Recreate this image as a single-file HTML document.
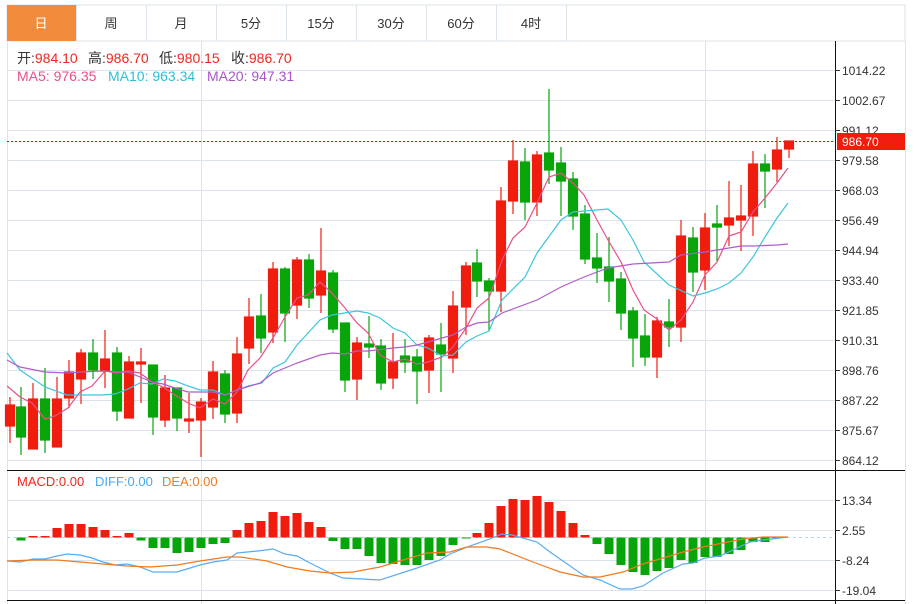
<!DOCTYPE html>
<html><head><meta charset="utf-8"><style>
body{margin:0;background:#fff;width:914px;height:604px;overflow:hidden;font-family:"Liberation Sans","Noto Sans CJK SC",sans-serif}
svg{position:absolute;left:0;top:0}
text{font-family:"Liberation Sans","Noto Sans CJK SC",sans-serif}
</style></head><body>
<svg width="914" height="604" viewBox="0 0 914 604">
<rect x="7" y="5" width="898" height="36" fill="#fff" stroke="#dde3ea"/>
<rect x="7" y="5" width="69" height="36" fill="#f28c3c"/>
<g stroke="#dde3ea"><line x1="76.5" y1="5" x2="76.5" y2="41"/><line x1="146.5" y1="5" x2="146.5" y2="41"/><line x1="216.5" y1="5" x2="216.5" y2="41"/><line x1="286.5" y1="5" x2="286.5" y2="41"/><line x1="356.5" y1="5" x2="356.5" y2="41"/><line x1="426.5" y1="5" x2="426.5" y2="41"/><line x1="496.5" y1="5" x2="496.5" y2="41"/><line x1="566.5" y1="5" x2="566.5" y2="41"/></g>
<g font-size="13" text-anchor="middle" fill="#333"><text x="41" y="28" fill="#fff">日</text><text x="111" y="28">周</text><text x="181" y="28">月</text><text x="251" y="28">5分</text><text x="321" y="28">15分</text><text x="391" y="28">30分</text><text x="461" y="28">60分</text><text x="531" y="28">4时</text></g>
<g stroke="#dde3ea" fill="none"><line x1="7.5" y1="41" x2="7.5" y2="604"/><line x1="905.5" y1="41" x2="905.5" y2="604"/><line x1="201.5" y1="41" x2="201.5" y2="604"/><line x1="705.5" y1="41" x2="705.5" y2="604"/>
<line x1="7" y1="70.5" x2="835" y2="70.5"/><line x1="7" y1="100.5" x2="835" y2="100.5"/><line x1="7" y1="130.5" x2="835" y2="130.5"/><line x1="7" y1="160.5" x2="835" y2="160.5"/><line x1="7" y1="190.5" x2="835" y2="190.5"/><line x1="7" y1="220.5" x2="835" y2="220.5"/><line x1="7" y1="250.5" x2="835" y2="250.5"/><line x1="7" y1="280.5" x2="835" y2="280.5"/><line x1="7" y1="310.5" x2="835" y2="310.5"/><line x1="7" y1="340.5" x2="835" y2="340.5"/><line x1="7" y1="370.5" x2="835" y2="370.5"/><line x1="7" y1="400.5" x2="835" y2="400.5"/><line x1="7" y1="430.5" x2="835" y2="430.5"/><line x1="7" y1="460.5" x2="835" y2="460.5"/>
<line x1="7" y1="500.5" x2="835" y2="500.5"/><line x1="7" y1="530.5" x2="835" y2="530.5"/><line x1="7" y1="560.5" x2="835" y2="560.5"/><line x1="7" y1="590.5" x2="835" y2="590.5"/></g>
<line x1="7" y1="470.5" x2="905" y2="470.5" stroke="#111"/><line x1="7" y1="600.5" x2="905" y2="600.5" stroke="#111"/>
<line x1="835.5" y1="41" x2="835.5" y2="604" stroke="#111"/>
<g font-size="12" fill="#333"><g stroke="#333"><line x1="835" y1="70.5" x2="840" y2="70.5"/><line x1="835" y1="100.5" x2="840" y2="100.5"/><line x1="835" y1="130.5" x2="840" y2="130.5"/><line x1="835" y1="160.5" x2="840" y2="160.5"/><line x1="835" y1="190.5" x2="840" y2="190.5"/><line x1="835" y1="220.5" x2="840" y2="220.5"/><line x1="835" y1="250.5" x2="840" y2="250.5"/><line x1="835" y1="280.5" x2="840" y2="280.5"/><line x1="835" y1="310.5" x2="840" y2="310.5"/><line x1="835" y1="340.5" x2="840" y2="340.5"/><line x1="835" y1="370.5" x2="840" y2="370.5"/><line x1="835" y1="400.5" x2="840" y2="400.5"/><line x1="835" y1="430.5" x2="840" y2="430.5"/><line x1="835" y1="460.5" x2="840" y2="460.5"/><line x1="835" y1="500.5" x2="840" y2="500.5"/><line x1="835" y1="530.5" x2="840" y2="530.5"/><line x1="835" y1="560.5" x2="840" y2="560.5"/><line x1="835" y1="590.5" x2="840" y2="590.5"/></g>
<text x="842" y="75">1014.22</text><text x="842" y="105">1002.67</text><text x="842" y="135">991.12</text><text x="842" y="165">979.58</text><text x="842" y="195">968.03</text><text x="842" y="225">956.49</text><text x="842" y="255">944.94</text><text x="842" y="285">933.40</text><text x="842" y="315">921.85</text><text x="842" y="345">910.31</text><text x="842" y="375">898.76</text><text x="842" y="405">887.22</text><text x="842" y="435">875.67</text><text x="842" y="465">864.12</text>
<text x="842" y="505">13.34</text><text x="842" y="535">2.55</text><text x="842" y="565">-8.24</text><text x="842" y="595">-19.04</text></g>
<line x1="7" y1="141.5" x2="835" y2="141.5" stroke="#e01010" stroke-dasharray="2,2"/>
<rect x="837" y="133" width="68" height="17" fill="#f01d0f"/>
<text x="842" y="146" font-size="12" fill="#fff">986.70</text>
<line x1="7" y1="537.5" x2="835" y2="537.5" stroke="#a8dcf0" stroke-dasharray="3,3"/>
<g font-size="14">
<text x="17" y="63"><tspan fill="#333">开:</tspan><tspan fill="#f0261d">984.10</tspan></text>
<text x="88" y="63"><tspan fill="#333">高:</tspan><tspan fill="#f0261d">986.70</tspan></text>
<text x="159" y="63"><tspan fill="#333">低:</tspan><tspan fill="#f0261d">980.15</tspan></text>
<text x="231" y="63"><tspan fill="#333">收:</tspan><tspan fill="#f0261d">986.70</tspan></text>
<text x="17" y="81" fill="#e8508a">MA5: 976.35</text>
<text x="108" y="81" fill="#2bc0d8">MA10: 963.34</text>
<text x="207" y="81" fill="#a855c8">MA20: 947.31</text>
</g>
<g font-size="13">
<text x="17" y="486" fill="#f0261d">MACD:0.00</text>
<text x="95" y="486" fill="#4aa8f0">DIFF:0.00</text>
<text x="162" y="486" fill="#f07a20">DEA:0.00</text>
</g>
<g stroke-width="1.2">
<g stroke="#f01d0f" fill="#f01d0f">
<line x1="10" y1="397" x2="10" y2="443"/><rect x="5.5" y="405" width="9" height="21"/>
<line x1="33" y1="383" x2="33" y2="449"/><rect x="28.5" y="399" width="9" height="50"/>
<line x1="57" y1="377" x2="57" y2="447"/><rect x="52.5" y="399" width="9" height="48"/>
<line x1="69" y1="360" x2="69" y2="408"/><rect x="64.5" y="372" width="9" height="26"/>
<line x1="81" y1="349" x2="81" y2="404"/><rect x="76.5" y="353" width="9" height="26"/>
<line x1="105" y1="330" x2="105" y2="388"/><rect x="100.5" y="359" width="9" height="12"/>
<line x1="129" y1="356" x2="129" y2="418"/><rect x="124.5" y="362" width="9" height="56"/>
<line x1="141" y1="348" x2="141" y2="403"/><rect x="136.5" y="362" width="9" height="2"/>
<line x1="165" y1="375" x2="165" y2="427"/><rect x="160.5" y="388" width="9" height="32"/>
<line x1="189" y1="393" x2="189" y2="433"/><rect x="184.5" y="419" width="9" height="2"/>
<line x1="201" y1="398" x2="201" y2="457"/><rect x="196.5" y="402" width="9" height="18"/>
<line x1="213" y1="361" x2="213" y2="419"/><rect x="208.5" y="372" width="9" height="35"/>
<line x1="237" y1="337" x2="237" y2="423"/><rect x="232.5" y="354" width="9" height="59"/>
<line x1="249" y1="298" x2="249" y2="364"/><rect x="244.5" y="317" width="9" height="31"/>
<line x1="273" y1="262" x2="273" y2="343"/><rect x="268.5" y="269" width="9" height="63"/>
<line x1="297" y1="257" x2="297" y2="319"/><rect x="292.5" y="260" width="9" height="45"/>
<line x1="321" y1="228" x2="321" y2="313"/><rect x="316.5" y="271" width="9" height="24"/>
<line x1="357" y1="337" x2="357" y2="400"/><rect x="352.5" y="343" width="9" height="36"/>
<line x1="393" y1="333" x2="393" y2="389"/><rect x="388.5" y="362" width="9" height="16"/>
<line x1="429" y1="335" x2="429" y2="393"/><rect x="424.5" y="338" width="9" height="32"/>
<line x1="453" y1="291" x2="453" y2="373"/><rect x="448.5" y="306" width="9" height="52"/>
<line x1="466" y1="262" x2="466" y2="335"/><rect x="461.5" y="266" width="9" height="41"/>
<line x1="501" y1="187" x2="501" y2="312"/><rect x="496.5" y="201" width="9" height="90"/>
<line x1="513" y1="140" x2="513" y2="214"/><rect x="508.5" y="161" width="9" height="40"/>
<line x1="537" y1="151" x2="537" y2="216"/><rect x="532.5" y="155" width="9" height="47"/>
<line x1="657" y1="317" x2="657" y2="378"/><rect x="652.5" y="321" width="9" height="36"/>
<line x1="681" y1="220" x2="681" y2="342"/><rect x="676.5" y="236" width="9" height="91"/>
<line x1="705" y1="213" x2="705" y2="290"/><rect x="700.5" y="228" width="9" height="42"/>
<line x1="729" y1="181" x2="729" y2="246"/><rect x="724.5" y="218" width="9" height="7"/>
<line x1="741" y1="185" x2="741" y2="251"/><rect x="736.5" y="216" width="9" height="4"/>
<line x1="753" y1="151" x2="753" y2="236"/><rect x="748.5" y="164" width="9" height="52"/>
<line x1="777" y1="137" x2="777" y2="182"/><rect x="772.5" y="150" width="9" height="19"/>
<line x1="789" y1="141" x2="789" y2="158"/><rect x="784.5" y="141" width="9" height="8"/>
</g>
<g stroke="#07a50a" fill="#07a50a">
<line x1="21" y1="387" x2="21" y2="455"/><rect x="16.5" y="407" width="9" height="30"/>
<line x1="45" y1="368" x2="45" y2="453"/><rect x="40.5" y="399" width="9" height="41"/>
<line x1="93" y1="339" x2="93" y2="379"/><rect x="88.5" y="353" width="9" height="17"/>
<line x1="117" y1="347" x2="117" y2="421"/><rect x="112.5" y="353" width="9" height="58"/>
<line x1="153" y1="365" x2="153" y2="435"/><rect x="148.5" y="365" width="9" height="52"/>
<line x1="177" y1="388" x2="177" y2="431"/><rect x="172.5" y="388" width="9" height="30"/>
<line x1="225" y1="370" x2="225" y2="423"/><rect x="220.5" y="374" width="9" height="40"/>
<line x1="261" y1="294" x2="261" y2="353"/><rect x="256.5" y="316" width="9" height="22"/>
<line x1="285" y1="267" x2="285" y2="342"/><rect x="280.5" y="269" width="9" height="44"/>
<line x1="309" y1="254" x2="309" y2="308"/><rect x="304.5" y="260" width="9" height="38"/>
<line x1="333" y1="270" x2="333" y2="333"/><rect x="328.5" y="273" width="9" height="56"/>
<line x1="345" y1="323" x2="345" y2="392"/><rect x="340.5" y="323" width="9" height="57"/>
<line x1="369" y1="316" x2="369" y2="358"/><rect x="364.5" y="344" width="9" height="3"/>
<line x1="381" y1="339" x2="381" y2="390"/><rect x="376.5" y="346" width="9" height="37"/>
<line x1="405" y1="339" x2="405" y2="373"/><rect x="400.5" y="356" width="9" height="6"/>
<line x1="417" y1="349" x2="417" y2="404"/><rect x="412.5" y="357" width="9" height="14"/>
<line x1="441" y1="323" x2="441" y2="392"/><rect x="436.5" y="345" width="9" height="9"/>
<line x1="477" y1="249" x2="477" y2="297"/><rect x="472.5" y="263" width="9" height="18"/>
<line x1="489" y1="278" x2="489" y2="331"/><rect x="484.5" y="281" width="9" height="10"/>
<line x1="525" y1="148" x2="525" y2="220"/><rect x="520.5" y="162" width="9" height="40"/>
<line x1="549" y1="89" x2="549" y2="184"/><rect x="544.5" y="153" width="9" height="17"/>
<line x1="561" y1="147" x2="561" y2="216"/><rect x="556.5" y="163" width="9" height="18"/>
<line x1="573" y1="172" x2="573" y2="230"/><rect x="568.5" y="179" width="9" height="37"/>
<line x1="585" y1="205" x2="585" y2="264"/><rect x="580.5" y="214" width="9" height="45"/>
<line x1="597" y1="233" x2="597" y2="283"/><rect x="592.5" y="258" width="9" height="10"/>
<line x1="609" y1="237" x2="609" y2="302"/><rect x="604.5" y="267" width="9" height="14"/>
<line x1="621" y1="272" x2="621" y2="330"/><rect x="616.5" y="279" width="9" height="34"/>
<line x1="633" y1="307" x2="633" y2="367"/><rect x="628.5" y="311" width="9" height="27"/>
<line x1="645" y1="314" x2="645" y2="366"/><rect x="640.5" y="336" width="9" height="21"/>
<line x1="669" y1="299" x2="669" y2="347"/><rect x="664.5" y="322" width="9" height="5"/>
<line x1="693" y1="227" x2="693" y2="292"/><rect x="688.5" y="238" width="9" height="34"/>
<line x1="717" y1="205" x2="717" y2="261"/><rect x="712.5" y="224" width="9" height="3"/>
<line x1="765" y1="154" x2="765" y2="208"/><rect x="760.5" y="164" width="9" height="7"/>
</g></g>
<g fill="none" stroke-width="1.2">
<polyline stroke="#e8508a" points="7,386 20,397 32,403 45,419 55,416 68,408 80,392 92,386 105,371 117,373 128,371 140,373 152,382 163,387 175,395 188,403 200,408 213,399 225,404 237,392 248,370 260,358 273,338 285,317 297,298 308,295 320,282 332,293 345,308 357,323 368,333 380,355 393,362 405,359 417,364 428,362 442,357 453,347 466,328 477,308 489,298 502,260 513,238 525,227 537,203 549,177 561,173 573,183 584,195 597,220 608,240 621,262 633,290 644,310 657,319 669,330 681,320 693,302 705,275 717,262 729,236 741,232 753,212 765,198 777,183 788,168"/>
<polyline stroke="#3cc6dc" points="7,353 20,370 45,387 67,395 80,395 103,395 115,394 128,389 140,383 152,384 163,379 175,381 188,386 200,390 213,390 225,395 237,390 248,386 262,383 273,368 285,362 297,345 308,333 320,320 332,315 357,311 368,313 380,318 393,328 405,333 417,345 428,348 442,356 453,355 466,342 477,336 489,331 502,300 525,277 537,253 561,220 573,212 608,209 621,220 633,240 644,262 669,285 693,296 705,293 717,289 729,283 741,273 753,257 765,237 777,218 788,203"/>
<polyline stroke="#b05cc8" points="7,360 20,367 45,372 67,373 80,372 103,371 117,372 128,372 140,377 152,382 163,384 175,388 188,392 213,392 225,395 237,390 260,383 273,373 297,363 320,355 332,353 345,354 357,351 368,351 393,348 405,347 417,345 428,342 442,338 453,335 466,327 477,323 489,322 502,313 537,300 561,287 584,277 608,268 633,264 669,262 681,255 705,252 729,248 741,246 753,246 777,245 788,244"/>
</g>
<g fill="#f01d0f">
<rect x="28.5" y="536" width="9" height="1.5"/><rect x="40.5" y="536" width="9" height="1.5"/><rect x="52.5" y="528" width="9" height="9.5"/><rect x="64.5" y="524" width="9" height="13.5"/><rect x="76.5" y="524" width="9" height="13.5"/><rect x="88.5" y="527" width="9" height="10.5"/><rect x="100.5" y="530" width="9" height="7.5"/><rect x="112.5" y="536" width="9" height="1.5"/><rect x="124.5" y="533" width="9" height="4.5"/>
<rect x="232.5" y="530" width="9" height="7.5"/><rect x="244.5" y="523" width="9" height="14.5"/><rect x="256.5" y="521" width="9" height="16.5"/><rect x="268.5" y="512" width="9" height="25.5"/><rect x="280.5" y="516" width="9" height="21.5"/><rect x="292.5" y="513" width="9" height="24.5"/><rect x="304.5" y="522" width="9" height="15.5"/><rect x="316.5" y="527" width="9" height="10.5"/>
<rect x="472.5" y="533" width="9" height="4.5"/><rect x="484.5" y="523" width="9" height="14.5"/><rect x="496.5" y="506" width="9" height="31.5"/><rect x="508.5" y="499" width="9" height="38.5"/><rect x="520.5" y="500" width="9" height="37.5"/><rect x="532.5" y="496" width="9" height="41.5"/><rect x="544.5" y="502" width="9" height="35.5"/><rect x="556.5" y="511" width="9" height="26.5"/><rect x="568.5" y="523" width="9" height="14.5"/><rect x="580.5" y="535" width="9" height="2.5"/>
</g>
<g fill="#07a50a">
<rect x="16.5" y="537.5" width="9" height="3"/><rect x="136.5" y="537.5" width="9" height="3"/><rect x="148.5" y="537.5" width="9" height="10.5"/><rect x="160.5" y="537.5" width="9" height="10.5"/><rect x="172.5" y="537.5" width="9" height="15.5"/><rect x="184.5" y="537.5" width="9" height="14.5"/><rect x="196.5" y="537.5" width="9" height="10.5"/><rect x="208.5" y="537.5" width="9" height="6.5"/><rect x="220.5" y="537.5" width="9" height="5.5"/>
<rect x="328.5" y="537.5" width="9" height="3.5"/><rect x="340.5" y="537.5" width="9" height="11.5"/><rect x="352.5" y="537.5" width="9" height="11.5"/><rect x="364.5" y="537.5" width="9" height="18.5"/><rect x="376.5" y="537.5" width="9" height="25.5"/><rect x="388.5" y="537.5" width="9" height="26.5"/><rect x="400.5" y="537.5" width="9" height="27.5"/><rect x="412.5" y="537.5" width="9" height="27.5"/><rect x="424.5" y="537.5" width="9" height="22.5"/><rect x="436.5" y="537.5" width="9" height="18.5"/><rect x="448.5" y="537.5" width="9" height="7.5"/><rect x="461.5" y="537.5" width="9" height="1"/>
<rect x="592.5" y="537.5" width="9" height="6.5"/><rect x="604.5" y="537.5" width="9" height="16.5"/><rect x="616.5" y="537.5" width="9" height="27.5"/><rect x="628.5" y="537.5" width="9" height="34.5"/><rect x="640.5" y="537.5" width="9" height="37.5"/><rect x="652.5" y="537.5" width="9" height="33.5"/><rect x="664.5" y="537.5" width="9" height="30.5"/><rect x="676.5" y="537.5" width="9" height="22.5"/><rect x="688.5" y="537.5" width="9" height="25.5"/><rect x="700.5" y="537.5" width="9" height="19.5"/><rect x="712.5" y="537.5" width="9" height="19.5"/><rect x="724.5" y="537.5" width="9" height="16.5"/><rect x="736.5" y="537.5" width="9" height="12.5"/><rect x="748.5" y="537.5" width="9" height="4.5"/><rect x="760.5" y="537.5" width="9" height="4.5"/><rect x="772.5" y="537.5" width="9" height="1"/>
</g>
<g fill="none" stroke-width="1.2">
<polyline stroke="#5aacf0" points="7,561 20,562 33,559 45,559 57,556 67,554 80,555 92,558 103,562 115,565 127,564 140,567 153,572 177,572 200,565 213,562 227,560 237,553 258,551 273,549 285,554 297,556 310,563 330,573 343,578 380,580 417,568 440,560 450,554 470,546 487,540 502,534 512,535 537,542 550,552 583,575 600,580 620,589 632,589 643,586 663,573 683,564 693,563 705,558 720,556 735,549 750,542 763,540 788,537"/>
<polyline stroke="#f07a20" points="7,561 33,560 57,560 80,562 103,564 127,566 150,567 177,565 200,561 227,557 240,557 267,561 287,567 310,571 330,573 353,572 380,567 403,560 427,553 450,552 467,547 487,547 500,549 533,562 560,572 583,577 600,577 623,572 643,564 663,558 683,552 703,547 723,543 743,539 763,537 788,537"/>
</g>
</svg>
</body></html>
